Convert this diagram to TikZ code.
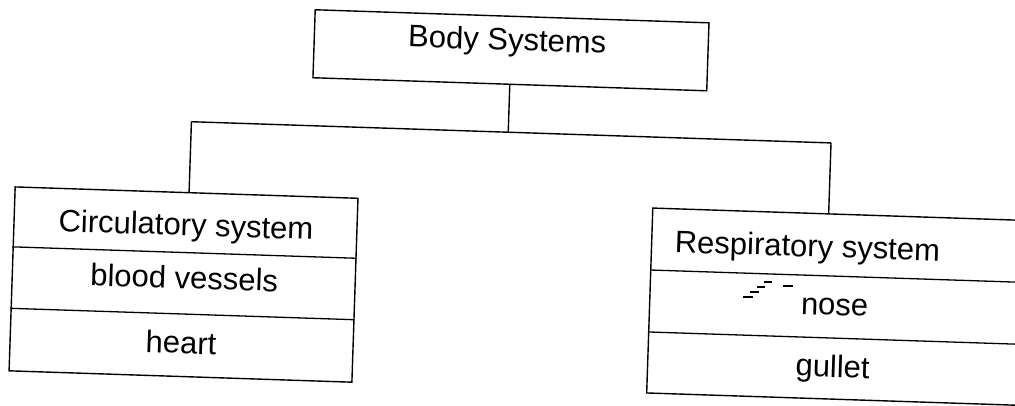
\documentclass[tikz,border=0pt]{standalone}
\usepackage{fontspec}
\setmainfont{Liberation Sans}
\begin{document}
\begin{tikzpicture}[x=1pt,y=-1pt,
  box/.style={draw=black, line width=1.4pt, rectangle, inner sep=0pt},
  conn/.style={draw=black, line width=1.4pt},
  rule/.style={draw=black, line width=1.3pt},
  lbl/.style={inner sep=0pt, anchor=base, font=\fontsize{31}{37}\selectfont}]
\useasboundingbox (0,0) rectangle (1015,406);
\clip (0,0) rectangle (1015,406);
\begin{scope}[rotate around={-1.9:(500,200)}, transform shape]
  % boxes
  \node[box, minimum width=394pt, minimum height=68pt] (body) at (506,50) {};
  \node[box, minimum width=343pt, minimum height=184pt] (left) at (186.5,295) {};
  \node[box, minimum width=370pt, minimum height=185pt] (right) at (838,295.5) {};
  % row dividers
  \coordinate (l1) at (0,263);  \coordinate (l2) at (0,324.5);
  \coordinate (r1) at (0,265);  \coordinate (r2) at (0,327);
  \draw[rule] (left.west |- l1) -- (left.east |- l1);
  \draw[rule] (left.west |- l2) -- (left.east |- l2);
  \draw[rule] (right.west |- r1) -- (right.east |- r1);
  \draw[rule] (right.west |- r2) -- (right.east |- r2);
  % connectors
  \coordinate (busL) at (189,132);
  \coordinate (busR) at (829,132);
  \draw[conn] (body.south) -- (body.south |- busL);
  \draw[conn] (busL) -- (busR);
  \draw[conn] (busL) -- (busL |- left.north);
  \draw[conn] (busR) -- (busR |- right.north);
  % texts
  \node[lbl] (tbody) at (502,50) {Body Systems};
  \node[lbl] (tc) at (187,246) {Circulatory system};
  \node[lbl] (tb) at (187,299) {blood vessels};
  \node[lbl] (th) at (186,364) {heart};
  \node[lbl, anchor=base west] (tr) at (676,246.5) {Respiratory system};
  \node[lbl] (tn) at (838,304) {nose};
  \node[lbl] (tg) at (838,366) {gullet};
\end{scope}
% scan marks beside "nose"
\begin{scope}[line width=1.6pt]
  \draw (743,297) -- (753,297);
  \draw (750,292) -- (759,292);
  \draw (757,287) -- (765,287);
  \draw (764,282) -- (772,282);
  \draw (783,286) -- (793,286);
\end{scope}
\end{tikzpicture}
\end{document}
